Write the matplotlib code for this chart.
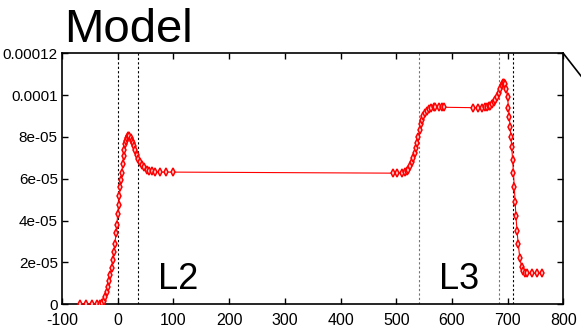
import matplotlib
matplotlib.use("Agg")
import matplotlib.pyplot as plt
from matplotlib.lines import Line2D
import numpy as np

plt.rcParams['font.family'] = ['Liberation Sans', 'DejaVu Sans']

# ---- data (y in units of 1e-5) ----
x_l2 = [-68, -57, -47, -38, -32, -28, -25, -22, -19, -17, -15, -13, -11, -9, -7, -5, -3, -1.5,
        0, 1.5, 3, 4.5, 6, 7.5, 9, 10.5, 12, 13.5, 15, 17, 19, 21, 23, 25, 27, 29, 31, 34, 37,
        40, 43, 47, 52, 57, 62, 67, 76, 87, 100]
y_l2 = [0, 0, 0, 0, 0.02, 0.08, 0.18, 0.35, 0.6, 0.84, 1.12, 1.42, 1.72, 2.1, 2.5, 2.9, 3.4, 3.8,
        4.3, 4.75, 5.2, 5.6, 5.95, 6.3, 6.7, 7.1, 7.4, 7.65, 7.8, 7.95, 8.03, 8.03, 7.95, 7.82,
        7.7, 7.55, 7.4, 7.14, 6.95, 6.8, 6.66, 6.55, 6.43, 6.38, 6.35, 6.32, 6.32, 6.32, 6.32]

x_l3 = [495, 502, 510, 516, 520, 522, 525, 528, 531, 534, 536, 538, 540, 543, 545, 547, 549, 552,
        555, 558, 562, 567, 570, 576, 582, 586, 638, 646, 654, 659, 663, 666, 669, 672, 675, 678,
        681, 684, 687, 690, 692, 694, 696, 698, 700, 701.5, 703, 704.5, 706, 707.5, 709, 710.5,
        712, 713.5, 715, 717, 719, 722, 725, 728, 731, 734, 743, 752, 761]
y_l3 = [6.27, 6.27, 6.28, 6.33, 6.38, 6.43, 6.6, 6.78, 7.0, 7.22, 7.45, 7.7, 8.0, 8.34, 8.6, 8.82,
        9.0, 9.14, 9.25, 9.33, 9.38, 9.41, 9.42, 9.42, 9.42, 9.42, 9.4, 9.4, 9.4, 9.42, 9.44, 9.46,
        9.5, 9.58, 9.65, 9.75, 9.9, 10.1, 10.3, 10.5, 10.58, 10.6, 10.55, 10.3, 9.9, 9.4, 8.95,
        8.5, 8.0, 7.5, 6.9, 6.3, 5.6, 4.9, 4.2, 3.5, 2.9, 2.2, 1.8, 1.6, 1.52, 1.48, 1.48, 1.48, 1.48]

boundaries = [0.5, 37, 541.5, 684, 710]
boundary_colors = ['black', 'black', '0.45', '0.45', 'black']

x_ticks = [-100, 0, 100, 200, 300, 400, 500, 600, 700, 800]
x_ticklabels = ['-100', '0', '100', '200', '300', '400', '500', '600', '700', '800']
y_ticks = [0, 2e-5, 4e-5, 6e-5, 8e-5, 1e-4, 1.2e-4]
y_ticklabels = ['0', '2e-05', '4e-05', '6e-05', '8e-05', '0.0001', '0.00012']

assert len(x_l2) == len(y_l2) and len(x_l3) == len(y_l3)
x = np.array(x_l2 + x_l3, dtype=float)
y = np.array(y_l2 + y_l3, dtype=float) * 1e-5

fig = plt.figure(figsize=(5.81, 3.36), dpi=100)
ax = fig.add_axes([62/581, (336-304.3)/336, (563.3-62)/581, (304.3-53.3)/336])

for b, c in zip(boundaries, boundary_colors):
    ax.axvline(b, color=c, lw=0.8, ls=(0, (2, 2)), zorder=1)

ax.plot(x, y, color='red', lw=0.8, marker='d', markersize=4,
        markerfacecolor='#ffd0d0', markeredgecolor='red', markeredgewidth=1.1, zorder=3)

ax.set_xlim(-100, 800)
ax.set_ylim(0, 1.2e-4)
ax.set_xticks(x_ticks)
ax.set_xticklabels(x_ticklabels, fontsize=11.5)
ax.set_yticks(y_ticks)
ax.set_yticklabels(y_ticklabels, fontsize=11)
ax.tick_params(direction='in', top=True, right=True, length=4, width=1)
ax.tick_params(axis='x', pad=6)
ax.tick_params(axis='y', pad=3)
for s in ax.spines.values():
    s.set_linewidth(1.2)

ax.text(72, 0.73e-5, 'L2', fontsize=26, ha='left', va='baseline')
ax.text(577, 0.73e-5, 'L3', fontsize=26, ha='left', va='baseline')

fig.text(64/581, (336-42)/336, 'Model', fontsize=34, ha='left', va='baseline')

fig.add_artist(Line2D([563.3/581, 1.0], [(336-53.3)/336, (336-76)/336],
                      transform=fig.transFigure, color='black', lw=1.2))

fig.savefig('out.png', dpi=100)
